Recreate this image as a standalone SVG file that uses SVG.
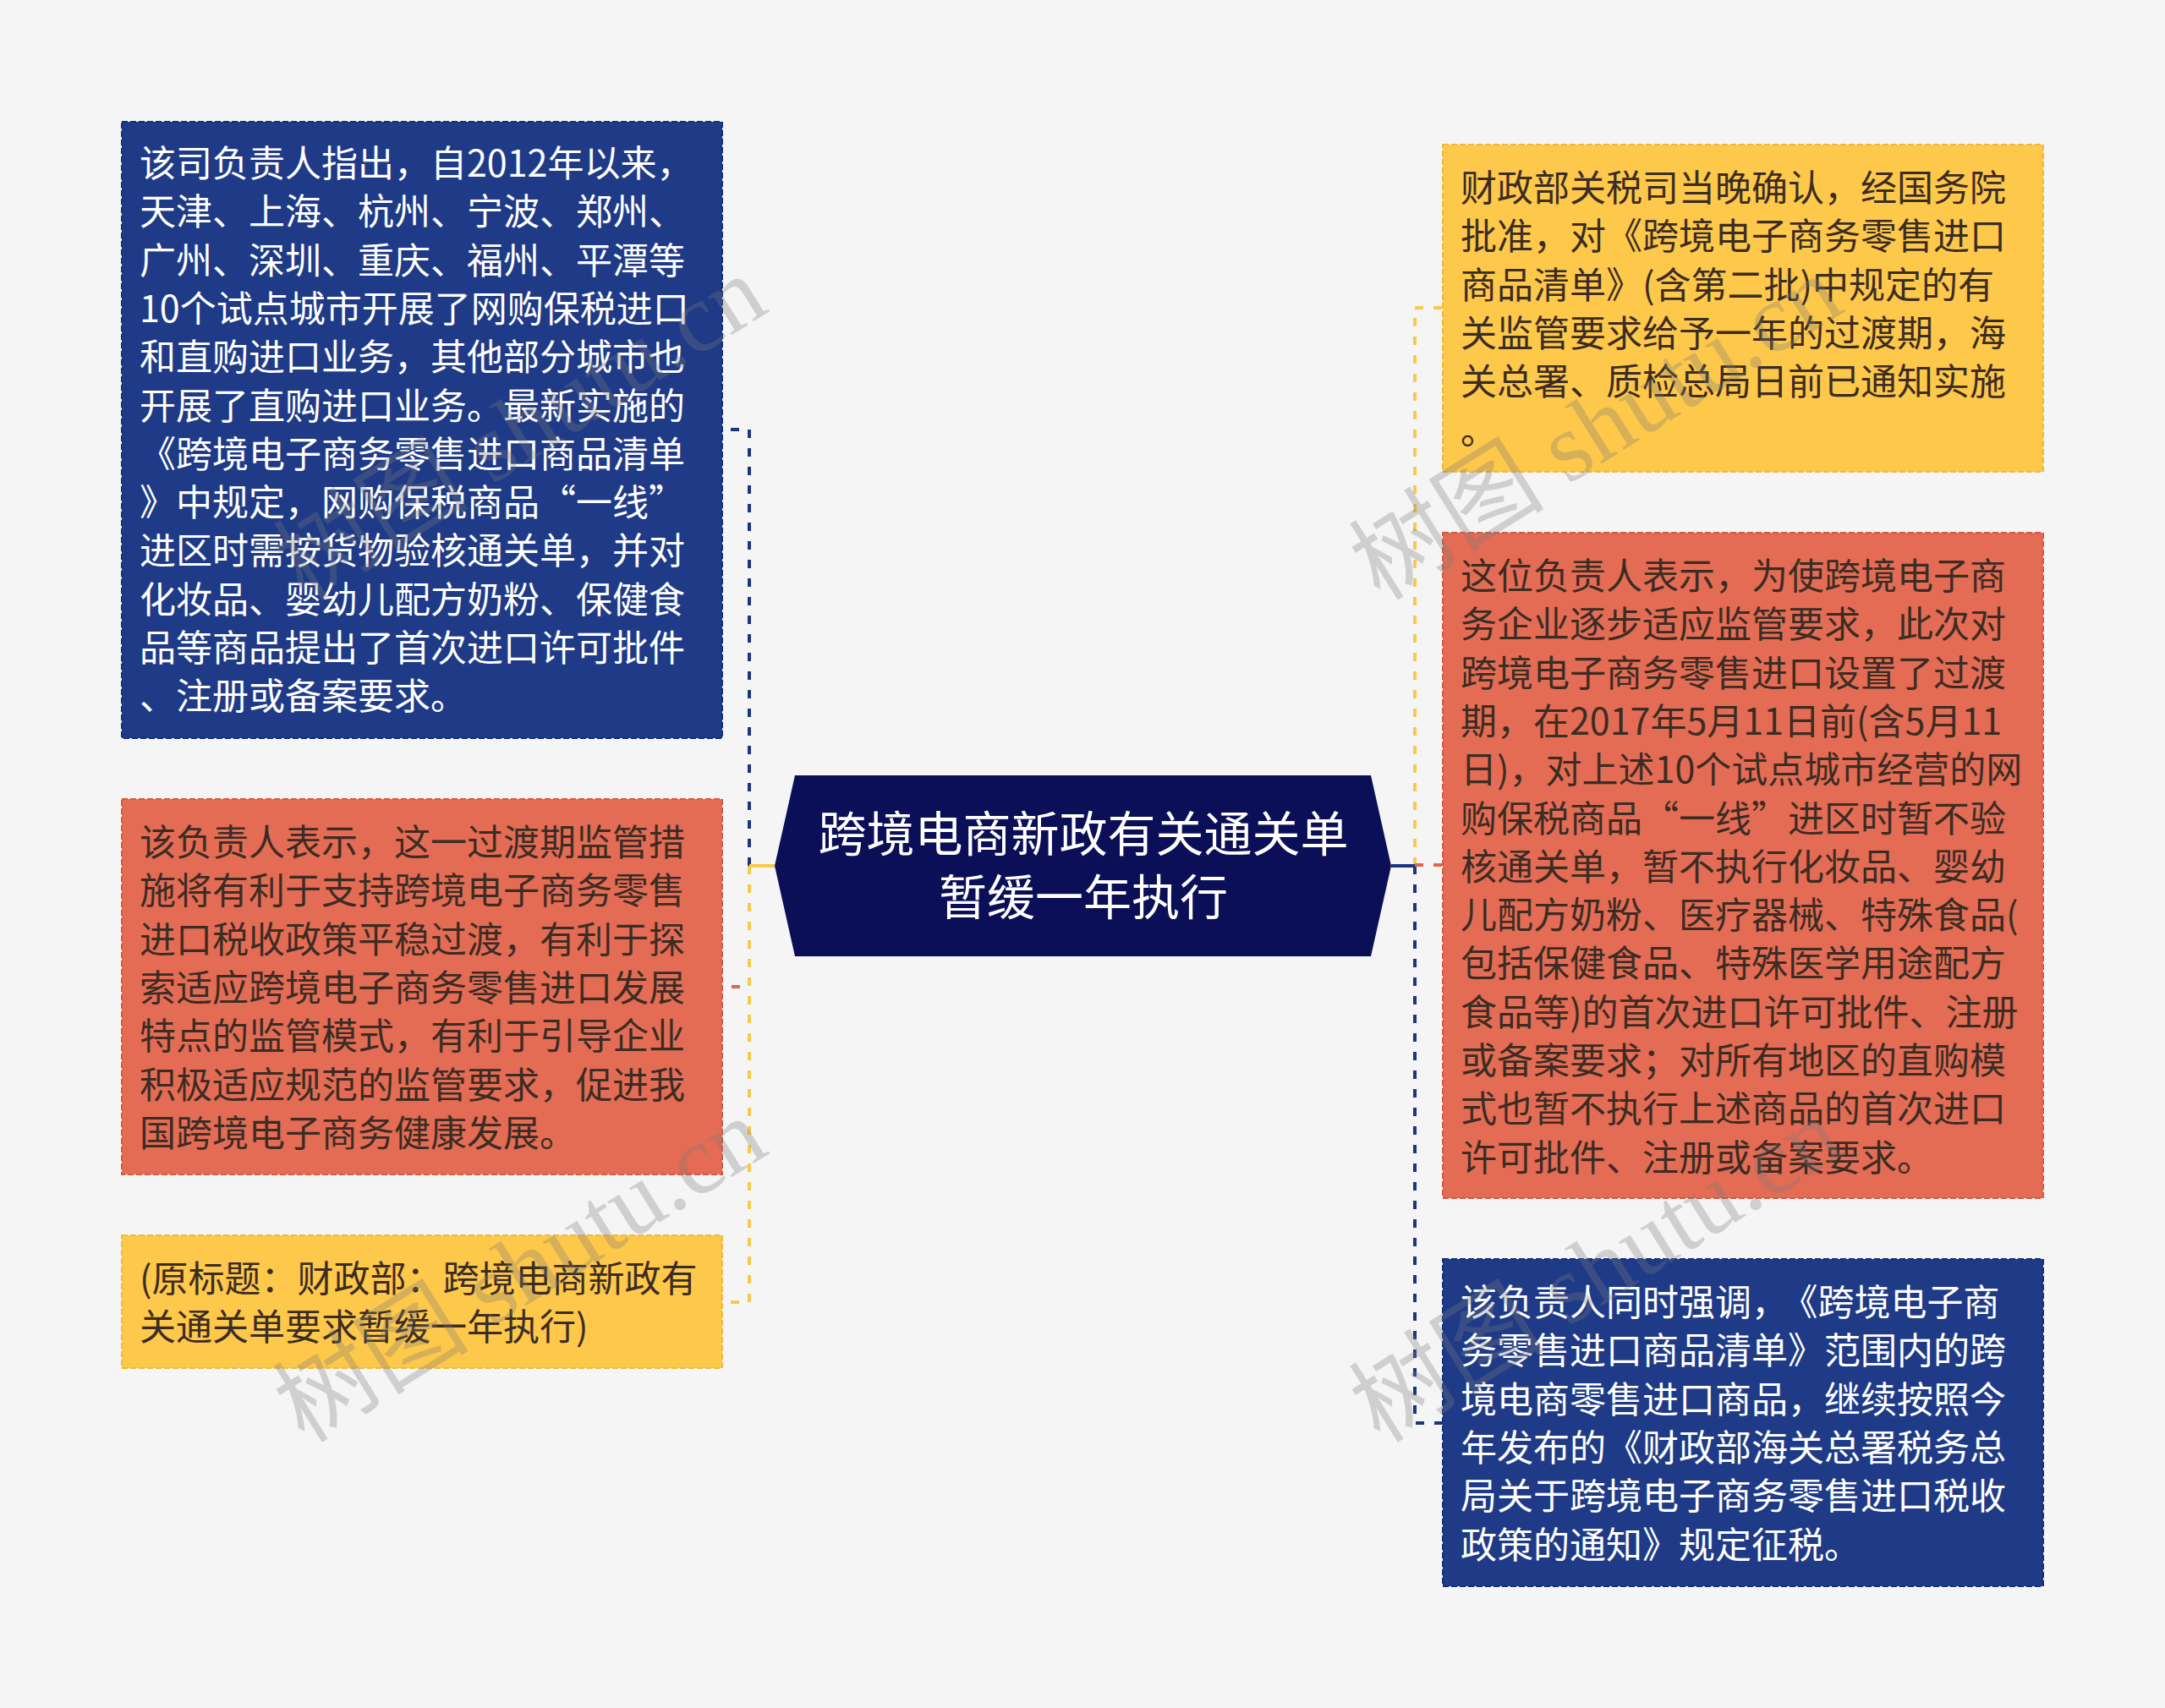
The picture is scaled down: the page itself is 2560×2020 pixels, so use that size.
<svg xmlns="http://www.w3.org/2000/svg" width="2560" height="2020" viewBox="0 0 2560 2020">
<style>
.bg{fill:#f5f5f5}
.box{stroke-width:2;stroke-dasharray:7 3}
.blue{fill:#1f3b87;stroke:#16307a}
.red{fill:#e46c55;stroke:#d45a44}
.yel{fill:#fec84a;stroke:#f0b93c}
.t{font-family:"Noto Sans CJK SC","Noto Sans",sans-serif;font-size:43px}
.tw{fill:#ffffff}
.td{fill:#3b2c24}
.ct{font-family:"Noto Sans CJK SC","Noto Sans",sans-serif;font-size:57px;fill:#ffffff;text-anchor:middle}
.c{fill:none;stroke-width:4}
.d{stroke-dasharray:10 12}
.cb{stroke:#1c3580}
.cr{stroke:#e0664f}
.cy{stroke:#f8c94a}
.wm{font-family:"Liberation Serif","Noto Sans CJK SC",serif;font-size:116px;fill:#7a7a7a;opacity:0.3}
</style>
<rect class="bg" x="0" y="0" width="2560" height="2020"/>
<g id="connectors">
<path class="c d cb" d="M886 1024 V508 H854"/>
<path class="c d cr" d="M886 1024 V1167 H854"/>
<path class="c d cy" d="M886 1024 V1540 H854"/>
<path class="c cy" d="M916 1024 H886"/>
<path class="c d cy" d="M1673 1024 V364 H1706"/>
<path class="c d cb" d="M1673 1024 V1683 H1706"/>
<path class="c d cr" d="M1673 1023 H1706"/>
<path class="c cb" d="M1645 1024 H1673"/>
</g>
<g id="center">
<polygon points="940,917 1621,917 1645,1024 1621,1131 940,1131 916,1024" fill="#0b0f57"/>
<text class="ct" x="1281" y="1007">跨境电商新政有关通关单</text>
<text class="ct" x="1281" y="1082">暂缓一年执行</text>
</g>
<g id="node-left-1">
<rect class="box blue" x="144" y="144" width="710" height="729"/>
<text class="t tw" x="165" y="209">
<tspan x="165">该司负责人指出，自2012年以来，</tspan>
<tspan x="165" dy="57.3">天津、上海、杭州、宁波、郑州、</tspan>
<tspan x="165" dy="57.3">广州、深圳、重庆、福州、平潭等</tspan>
<tspan x="165" dy="57.3">10个试点城市开展了网购保税进口</tspan>
<tspan x="165" dy="57.3">和直购进口业务，其他部分城市也</tspan>
<tspan x="165" dy="57.3">开展了直购进口业务。最新实施的</tspan>
<tspan x="165" dy="57.3">《跨境电子商务零售进口商品清单</tspan>
<tspan x="165" dy="57.3">》中规定，网购保税商品“一线”</tspan>
<tspan x="165" dy="57.3">进区时需按货物验核通关单，并对</tspan>
<tspan x="165" dy="57.3">化妆品、婴幼儿配方奶粉、保健食</tspan>
<tspan x="165" dy="57.3">品等商品提出了首次进口许可批件</tspan>
<tspan x="165" dy="57.3">、注册或备案要求。</tspan>
</text>
</g>
<g id="node-left-2">
<rect class="box red" x="144" y="945" width="710" height="444"/>
<text class="t td" x="165" y="1012">
<tspan x="165">该负责人表示，这一过渡期监管措</tspan>
<tspan x="165" dy="57.3">施将有利于支持跨境电子商务零售</tspan>
<tspan x="165" dy="57.3">进口税收政策平稳过渡，有利于探</tspan>
<tspan x="165" dy="57.3">索适应跨境电子商务零售进口发展</tspan>
<tspan x="165" dy="57.3">特点的监管模式，有利于引导企业</tspan>
<tspan x="165" dy="57.3">积极适应规范的监管要求，促进我</tspan>
<tspan x="165" dy="57.3">国跨境电子商务健康发展。</tspan>
</text>
</g>
<g id="node-left-3">
<rect class="box yel" x="144" y="1461" width="710" height="157"/>
<text class="t td" x="165" y="1528">
<tspan x="165">(原标题：财政部：跨境电商新政有</tspan>
<tspan x="165" dy="57.3">关通关单要求暂缓一年执行)</tspan>
</text>
</g>
<g id="node-right-1">
<rect class="box yel" x="1706" y="171" width="710" height="387"/>
<text class="t td" x="1727" y="238">
<tspan x="1727">财政部关税司当晚确认，经国务院</tspan>
<tspan x="1727" dy="57.3">批准，对《跨境电子商务零售进口</tspan>
<tspan x="1727" dy="57.3">商品清单》(含第二批)中规定的有</tspan>
<tspan x="1727" dy="57.3">关监管要求给予一年的过渡期，海</tspan>
<tspan x="1727" dy="57.3">关总署、质检总局日前已通知实施</tspan>
<tspan x="1727" dy="57.3">。</tspan>
</text>
</g>
<g id="node-right-2">
<rect class="box red" x="1706" y="630" width="710" height="787"/>
<text class="t td" x="1727" y="697">
<tspan x="1727">这位负责人表示，为使跨境电子商</tspan>
<tspan x="1727" dy="57.3">务企业逐步适应监管要求，此次对</tspan>
<tspan x="1727" dy="57.3">跨境电子商务零售进口设置了过渡</tspan>
<tspan x="1727" dy="57.3">期，在2017年5月11日前(含5月11</tspan>
<tspan x="1727" dy="57.3">日)，对上述10个试点城市经营的网</tspan>
<tspan x="1727" dy="57.3">购保税商品“一线”进区时暂不验</tspan>
<tspan x="1727" dy="57.3">核通关单，暂不执行化妆品、婴幼</tspan>
<tspan x="1727" dy="57.3">儿配方奶粉、医疗器械、特殊食品(</tspan>
<tspan x="1727" dy="57.3">包括保健食品、特殊医学用途配方</tspan>
<tspan x="1727" dy="57.3">食品等)的首次进口许可批件、注册</tspan>
<tspan x="1727" dy="57.3">或备案要求；对所有地区的直购模</tspan>
<tspan x="1727" dy="57.3">式也暂不执行上述商品的首次进口</tspan>
<tspan x="1727" dy="57.3">许可批件、注册或备案要求。</tspan>
</text>
</g>
<g id="node-right-3">
<rect class="box blue" x="1706" y="1489" width="710" height="387"/>
<text class="t tw" x="1727" y="1556">
<tspan x="1727">该负责人同时强调，<tspan dx="14">《跨境电子商</tspan></tspan>
<tspan x="1727" dy="57.3">务零售进口商品清单》范围内的跨</tspan>
<tspan x="1727" dy="57.3">境电商零售进口商品，继续按照今</tspan>
<tspan x="1727" dy="57.3">年发布的《财政部海关总署税务总</tspan>
<tspan x="1727" dy="57.3">局关于跨境电子商务零售进口税收</tspan>
<tspan x="1727" dy="57.3">政策的通知》规定征税。</tspan>
</text>
</g>
<g id="watermarks">
<text class="wm" transform="translate(360,712) rotate(-32)">树图 shutu.cn</text>
<text class="wm" transform="translate(1632,712) rotate(-32)">树图 shutu.cn</text>
<text class="wm" transform="translate(360,1708) rotate(-32)">树图 shutu.cn</text>
<text class="wm" transform="translate(1632,1708) rotate(-32)">树图 shutu.cn</text>
</g>
</svg>
